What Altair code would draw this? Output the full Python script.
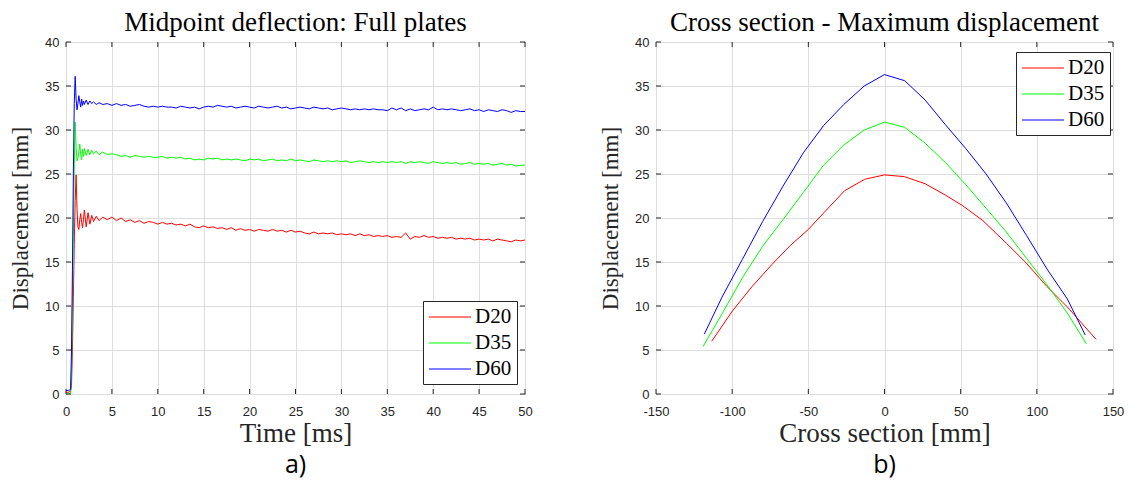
import altair as alt
import pandas as pd

# ---------------- panel a) : midpoint deflection vs time ----------------
time_ms = [0, 0.25, 0.5, 0.6, 0.7, 0.8, 0.9, 1.0, 1.1, 1.2, 1.3, 1.4, 1.5, 1.6, 1.7, 1.8, 1.9, 2.0,
           2.2, 2.4, 2.6, 2.8, 3.0, 3.3, 3.6, 4.0, 4.5, 5.0,
           5.5, 6.0, 6.5, 7.0, 7.5, 8.0, 8.5, 9.0, 9.5, 10.0,
           10.5, 11.0, 11.5, 12.0, 12.5, 13.0, 13.5, 14.0, 14.5, 15.0,
           15.5, 16.0, 16.5, 17.0, 17.5, 18.0, 18.5, 19.0, 19.5, 20.0,
           20.5, 21.0, 21.5, 22.0, 22.5, 23.0, 23.5, 24.0, 24.5, 25.0,
           25.5, 26.0, 26.5, 27.0, 27.5, 28.0, 28.5, 29.0, 29.5, 30.0,
           30.5, 31.0, 31.5, 32.0, 32.5, 33.0, 33.5, 34.0, 34.5, 35.0,
           35.5, 36.0, 36.5, 37.0, 37.5, 38.0, 38.5, 39.0, 39.5, 40.0,
           40.5, 41.0, 41.5, 42.0, 42.5, 43.0, 43.5, 44.0, 44.5, 45.0,
           45.5, 46.0, 46.5, 47.0, 47.5, 48.0, 48.5, 49.0, 49.5, 50.0]

mid_d20 = [0.2, 0.2, 0.3, 1.0, 5.0, 11.0, 17.0, 22.0, 24.9, 21.0, 19.0, 18.7, 19.8, 20.5, 19.5, 18.9, 19.8, 20.9,
           19.0, 20.6, 19.3, 20.3, 19.6, 20.2, 19.7, 20.1, 19.8, 20.1,
           19.7, 20.0, 19.6, 19.8, 19.5, 19.7, 19.4, 19.6, 19.5, 19.3,
           19.5, 19.3, 19.4, 19.2, 19.3, 19.1, 19.3, 19.0, 18.9, 19.1,
           18.9, 19.0, 18.8, 18.9, 18.7, 18.9, 18.6, 18.8, 18.6, 18.7,
           18.5, 18.7, 18.6, 18.5, 18.7, 18.5, 18.6, 18.4, 18.6, 18.4,
           18.5, 18.3, 18.2, 18.4, 18.2, 18.3, 18.2, 18.3, 18.1, 18.2,
           18.1, 18.2, 18.0, 18.2, 18.0, 18.1, 17.9, 18.0, 17.9, 18.0,
           17.8, 17.9, 17.8, 18.3, 17.6, 17.9, 17.8, 18.0, 17.8, 17.9,
           17.7, 17.8, 17.7, 17.8, 17.6, 17.7, 17.6, 17.7, 17.5, 17.6,
           17.5, 17.6, 17.4, 17.6, 17.5, 17.4, 17.3, 17.5, 17.4, 17.5]

mid_d35 = [0.0, 0.0, 0.1, 3.0, 10.0, 18.0, 26.0, 30.9, 28.0, 26.5, 26.8, 27.5, 28.4, 27.2, 26.6, 27.8, 27.0, 27.9,
           27.1, 27.8, 27.2, 27.7, 27.3, 27.6, 27.2, 27.5, 27.2, 27.3,
           27.2, 27.0, 27.1, 26.9, 27.1, 27.0, 26.9, 27.0, 26.9, 26.9,
           27.0, 26.8, 26.9, 26.8, 26.9, 26.7, 26.8, 26.6, 26.7, 26.6,
           26.8, 26.7, 26.8, 26.6, 26.7, 26.6, 26.7, 26.6, 26.5, 26.7,
           26.6, 26.7, 26.5, 26.6, 26.7, 26.5, 26.6, 26.5, 26.7, 26.5,
           26.6, 26.5, 26.4, 26.6, 26.5, 26.4, 26.5, 26.4, 26.5, 26.4,
           26.5, 26.3, 26.4, 26.5, 26.4, 26.3, 26.4, 26.3, 26.4, 26.3,
           26.4, 26.3, 26.4, 26.2, 26.4, 26.3, 26.4, 26.3, 26.2, 26.4,
           26.3, 26.2, 26.3, 26.2, 26.3, 26.1, 26.2, 26.3, 26.1, 26.2,
           26.1, 26.2, 26.0, 26.1, 26.2, 26.0, 26.1, 25.9, 26.0, 26.0]

mid_d60 = [0.4, 0.4, 0.5, 5.0, 14.0, 25.0, 33.0, 36.1, 33.5, 32.3, 33.0, 33.9, 33.2, 32.6, 33.5, 32.8, 33.3, 32.9,
           33.4, 32.9, 33.3, 33.0, 33.2, 32.9, 33.1, 32.9, 33.0, 32.8,
           33.0, 32.8, 32.9, 32.7, 32.8, 32.9, 32.7, 32.6, 32.7, 32.6,
           32.7, 32.6, 32.6, 32.5, 32.7, 32.6, 32.5, 32.6, 32.4, 32.6,
           32.7, 32.6, 32.8, 32.7, 32.6, 32.7, 32.5, 32.6, 32.7, 32.6,
           32.5, 32.7, 32.6, 32.5, 32.6, 32.7, 32.5, 32.6, 32.4, 32.5,
           32.6, 32.5, 32.4, 32.6, 32.5, 32.4, 32.5, 32.3, 32.4, 32.5,
           32.4, 32.3, 32.4, 32.3, 32.4, 32.3, 32.4, 32.3, 32.3, 32.2,
           32.5, 32.3, 32.5, 32.2, 32.4, 32.2, 32.3, 32.4, 32.3, 32.6,
           32.3, 32.4, 32.3, 32.4, 32.3, 32.2, 32.3, 32.4, 32.2, 32.3,
           32.1, 32.3, 32.2, 32.1, 32.3, 32.2, 32.0, 32.2, 32.1, 32.1]

# ---------------- panel b) : cross section at maximum displacement ----------------
cs_d20_x = [-113.4, -100.0, -87.0, -74.0, -61.7, -50.0, -39.8, -26.2, -13.0, 0.0, 13.0, 26.6, 40.0, 51.3, 64.6, 80.2, 93.0, 106.7, 120.0, 138.9]
cs_d20_y = [6.0, 9.4, 12.2, 14.7, 16.9, 18.7, 20.6, 23.1, 24.4, 24.9, 24.7, 23.9, 22.6, 21.4, 19.7, 17.1, 14.9, 12.2, 9.9, 6.2]
cs_d35_x = [-119.1, -106.7, -93.3, -80.0, -66.7, -53.3, -40.0, -26.7, -13.3, 0.0, 13.3, 26.7, 40.0, 53.3, 66.7, 80.0, 93.3, 106.7, 120.0, 132.5]
cs_d35_y = [5.4, 9.1, 13.2, 16.8, 19.8, 22.9, 26.0, 28.3, 30.0, 30.9, 30.3, 28.5, 26.3, 23.8, 21.1, 18.4, 15.4, 12.4, 9.2, 5.7]
cs_d60_x = [-118.3, -106.7, -93.3, -80.0, -66.7, -53.3, -40.0, -26.7, -13.3, 0.0, 13.3, 26.7, 40.0, 53.3, 66.7, 80.0, 93.3, 106.7, 120.0, 131.8]
cs_d60_y = [6.8, 11.0, 15.3, 19.6, 23.6, 27.4, 30.5, 32.9, 35.0, 36.3, 35.6, 33.4, 30.6, 27.9, 25.0, 21.7, 18.0, 14.2, 10.8, 6.7]

series_names = ["D20", "D35", "D60"]
series_colors = ["#ff0000", "#00ff00", "#0000ff"]

ticks_a_x = [0, 5, 10, 15, 20, 25, 30, 35, 40, 45, 50]
ticks_b_x = [-150, -100, -50, 0, 50, 100, 150]
ticks_y = [0, 5, 10, 15, 20, 25, 30, 35, 40]
panel_labels = ["a)", "b)"]

titles = ["Midpoint deflection: Full plates", "Cross section - Maximum displacement"]
x_titles = ["Time [ms]", "Cross section [mm]"]
y_title = "Displacement [mm]"

# ---------------- build tables ----------------
rows_a = []
for name, vals in zip(series_names, [mid_d20, mid_d35, mid_d60]):
    for t, v in zip(time_ms, vals):
        rows_a.append({"x": t, "y": v, "series": name})
df_a = pd.DataFrame(rows_a)

rows_b = []
for name, xs, ys in zip(series_names, [cs_d20_x, cs_d35_x, cs_d60_x], [cs_d20_y, cs_d35_y, cs_d60_y]):
    for xv, yv in zip(xs, ys):
        rows_b.append({"x": xv, "y": yv, "series": name})
df_b = pd.DataFrame(rows_b)

AX = "#262626"
SERIF = "Liberation Serif"
SANS = "Liberation Sans"
H = 352
TICK = 5


def panel(df, W, xdom, xticks, title, xtitle, label, legx, legy):
    xs = alt.Scale(domain=xdom, nice=False, zero=False)
    ys = alt.Scale(domain=[0, 40], nice=False)
    xaxis = alt.Axis(values=xticks, grid=True, gridColor="#dedede", ticks=False, domain=False,
                     labelFont=SANS, labelFontSize=13, labelColor=AX, labelPadding=11,
                     labelExpr="datum.value + ''", labelFlush=False,
                     title=xtitle, titleFont=SERIF, titleFontSize=27, titleFontWeight="normal",
                     titleColor=AX, titlePadding=2)
    yaxis = alt.Axis(values=ticks_y, grid=True, gridColor="#dedede", ticks=False, domain=False,
                     labelFont=SANS, labelFontSize=13, labelColor=AX, labelPadding=7,
                     labelFlush=False,
                     title=y_title, titleFont=SERIF, titleFontSize=23, titleFontWeight="normal",
                     titleColor=AX, titlePadding=12)
    lines = alt.Chart(df).mark_line(strokeWidth=1, clip=True).encode(
        x=alt.X("x:Q", scale=xs, axis=xaxis),
        y=alt.Y("y:Q", scale=ys, axis=yaxis),
        color=alt.Color("series:N",
                        scale=alt.Scale(domain=series_names, range=series_colors),
                        legend=alt.Legend(orient="none", legendX=legx, legendY=legy, title=None,
                                          symbolType="M-1,0H3.2", symbolSize=400, symbolStrokeWidth=1.2,
                                          labelFont=SERIF, labelFontSize=21, labelColor="black",
                                          strokeColor=AX, fillColor="white", padding=5,
                                          rowPadding=5, labelOffset=25)),
    )
    tdf_x = pd.DataFrame({"x": xticks})
    tdf_y = pd.DataFrame({"y": ticks_y})
    tb = alt.Chart(tdf_x).mark_rule(color=AX, strokeWidth=1).encode(
        x=alt.X("x:Q", scale=xs), y=alt.value(H), y2=alt.value(H - TICK))
    tt = alt.Chart(tdf_x).mark_rule(color=AX, strokeWidth=1).encode(
        x=alt.X("x:Q", scale=xs), y=alt.value(0), y2=alt.value(TICK))
    tl = alt.Chart(tdf_y).mark_rule(color=AX, strokeWidth=1).encode(
        y=alt.Y("y:Q", scale=ys), x=alt.value(0), x2=alt.value(TICK))
    tr = alt.Chart(tdf_y).mark_rule(color=AX, strokeWidth=1).encode(
        y=alt.Y("y:Q", scale=ys), x=alt.value(W), x2=alt.value(W - TICK))
    lab = alt.Chart(pd.DataFrame({"label": [label]})).mark_text(
        font="Open Sans", fontSize=25, color="black", baseline="middle", align="center"
    ).encode(x=alt.value(W / 2), y=alt.value(H + 71), text="label:N")
    return alt.layer(lines, tb, tt, tl, tr, lab).properties(
        width=W, height=H,
        title=alt.Title(title, font=SERIF, fontSize=27, fontWeight="normal", color="black",
                        anchor="middle", offset=-1),
    )


left = panel(df_a, 459, [0, 50], ticks_a_x, titles[0], x_titles[0], panel_labels[0], 357, 259)
right = panel(df_b, 457, [-150, 150], ticks_b_x, titles[1], x_titles[1], panel_labels[1], 360, 10)

chart = alt.hconcat(left, right, spacing=66).resolve_scale(
    x="independent", y="independent", color="independent"
).configure(padding={"left": 1, "top": 0, "right": 0, "bottom": 0}).configure_view(
    stroke=AX, strokeWidth=1
)

chart.save("out.html", embed_options={"renderer": "svg", "actions": False})
